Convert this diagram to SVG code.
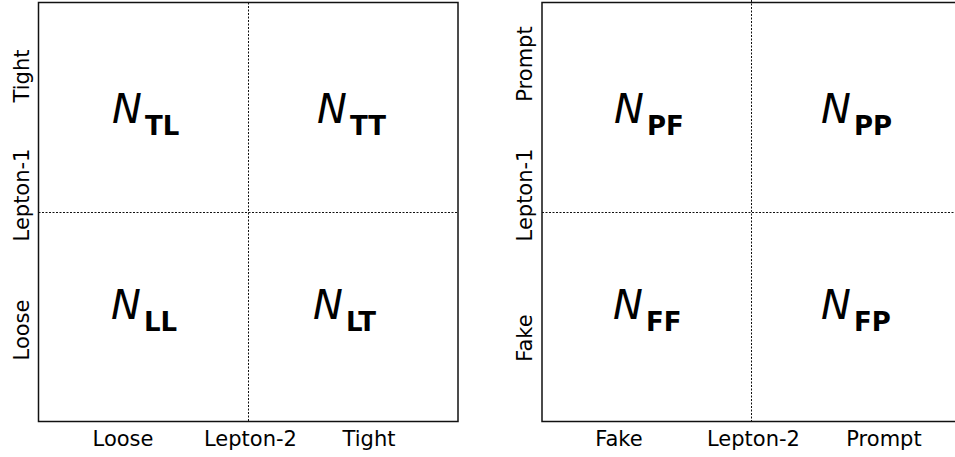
<svg xmlns="http://www.w3.org/2000/svg" width="955" height="457" viewBox="0 0 955 457">
  <style>
    .frame { fill: none; stroke: #111; stroke-width: 1.5; }
    .div { fill: none; stroke: #111; stroke-width: 1; stroke-dasharray: 2 1.5; }
    .lbl { font-family: "DejaVu Sans", sans-serif; font-size: 21px; fill: #000; }
    .mid { text-anchor: middle; }
    .n { font-family: "DejaVu Sans", sans-serif; font-size: 40px; font-style: italic; fill: #000; }
    .sub { font-style: normal; font-weight: bold; font-size: 26px; }
  </style>
  <rect width="955" height="457" fill="#fff"/>

  <!-- left panel: lepton ID categories -->
  <g id="panel-id">
    <rect class="frame" x="38.5" y="2.5" width="419.5" height="419"/>
    <g id="dividers-id">
      <line class="div" x1="248.5" y1="2.5" x2="248.5" y2="421.5"/>
      <line class="div" x1="38.5" y1="212.5" x2="458" y2="212.5"/>
    </g>
    <g id="cell-TL"><text class="n" x="112" y="123">N<tspan class="sub" x="145" y="134.5">TL</tspan></text></g>
    <g id="cell-TT"><text class="n" x="317" y="123">N<tspan class="sub" x="350" y="134.5">TT</tspan></text></g>
    <g id="cell-LL"><text class="n" x="111" y="319">N<tspan class="sub" x="144" y="330.5">LL</tspan></text></g>
    <g id="cell-LT"><text class="n" x="313" y="319">N<tspan class="sub" x="346" y="330.5">LT</tspan></text></g>
    <g id="axis-id">
      <text class="lbl mid" transform="translate(28.5,76) rotate(-90)">Tight</text>
      <text class="lbl mid" transform="translate(28.5,195) rotate(-90)">Lepton-1</text>
      <text class="lbl mid" transform="translate(28.5,330) rotate(-90)">Loose</text>
      <text class="lbl mid" x="123" y="446">Loose</text>
      <text class="lbl mid" x="250.5" y="446">Lepton-2</text>
      <text class="lbl mid" x="369" y="446">Tight</text>
    </g>
  </g>

  <!-- right panel: prompt / fake categories -->
  <g id="panel-pf">
    <rect class="frame" x="542" y="2.5" width="419.5" height="419"/>
    <g id="dividers-pf">
      <line class="div" x1="751.5" y1="0" x2="751.5" y2="421.5"/>
      <line class="div" x1="542" y1="212.5" x2="961.5" y2="212.5"/>
    </g>
    <g id="cell-PF"><text class="n" x="614" y="123">N<tspan class="sub" x="647" y="134.5">PF</tspan></text></g>
    <g id="cell-PP"><text class="n" x="821" y="123">N<tspan class="sub" x="854" y="134.5">PP</tspan></text></g>
    <g id="cell-FF"><text class="n" x="613" y="319">N<tspan class="sub" x="646" y="330.5">FF</tspan></text></g>
    <g id="cell-FP"><text class="n" x="821" y="319">N<tspan class="sub" x="854" y="330.5">FP</tspan></text></g>
    <g id="axis-pf">
      <text class="lbl mid" transform="translate(531.5,64) rotate(-90)">Prompt</text>
      <text class="lbl mid" transform="translate(531.5,195) rotate(-90)">Lepton-1</text>
      <text class="lbl mid" transform="translate(531.5,338) rotate(-90)">Fake</text>
      <text class="lbl mid" x="619" y="446">Fake</text>
      <text class="lbl mid" x="753.5" y="446">Lepton-2</text>
      <text class="lbl mid" x="884" y="446">Prompt</text>
    </g>
  </g>
</svg>
